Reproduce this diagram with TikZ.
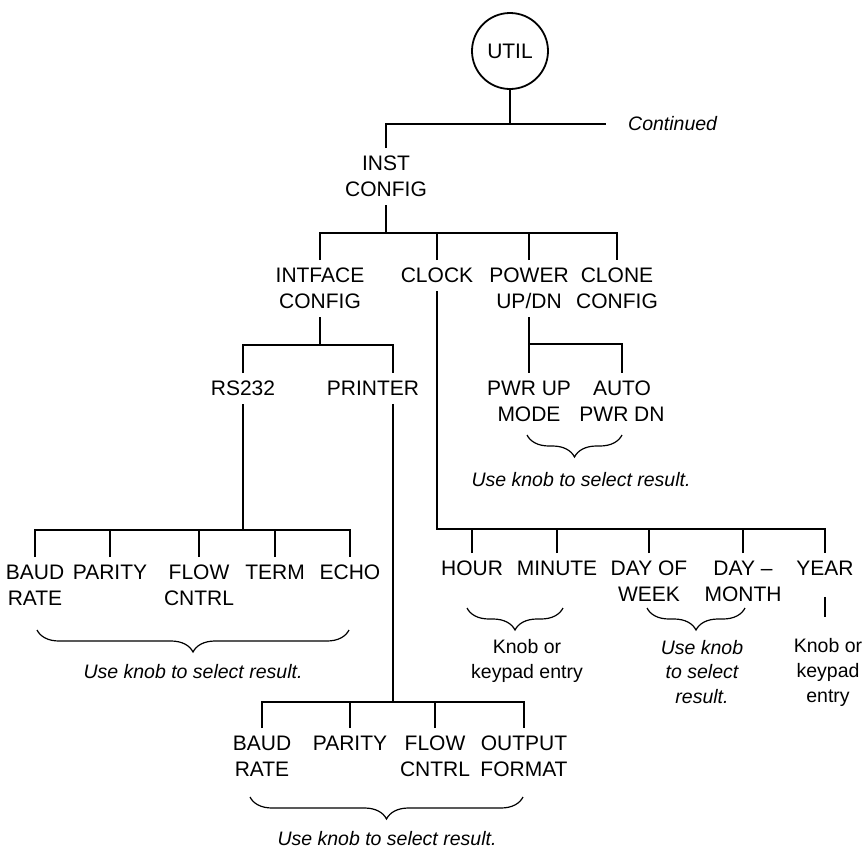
\documentclass[tikz,border=0pt]{standalone}
\usepackage{fontspec}
\setmainfont{Liberation Sans}
\usetikzlibrary{decorations.pathreplacing}

\begin{document}
\begin{tikzpicture}[
 x=1pt,y=-1pt,font=\fontsize{21}{26}\selectfont,
 item/.style={align=center,inner sep=8pt,anchor=north},
 note/.style={align=center,inner sep=2pt,font=\fontsize{19.5}{24.5}\selectfont\itshape},
 knob/.style={align=center,inner sep=2pt,font=\fontsize{19.5}{25}\selectfont},
 tree/.style={line width=2pt},
 brc/.style={decorate,decoration={brace,mirror,amplitude=22pt},line width=1.2pt}]
\useasboundingbox (0,0) rectangle (868,852);
\node[draw,circle,minimum size=76pt,inner sep=0pt,line width=1.8pt] (util) at (510,51) {UTIL};
\node[note,anchor=west,inner sep=0pt] (cont) at (628,124) {Continued};
\node[item] (inst) at (386,148) {INST\\CONFIG};
\node[item] (intf) at (320,260) {INTFACE\\CONFIG};
\node[item] (clock) at (437,260) {CLOCK};
\node[item] (power) at (529,260) {POWER\\UP/DN};
\node[item] (clone) at (617,260) {CLONE\\CONFIG};
\node[item] (rs) at (243,373) {RS232};
\node[item] (printer) at (373,373) {PRINTER};
\node[item] (pwrup) at (529,373) {PWR UP\\MODE};
\node[item] (auto) at (622,373) {AUTO\\PWR DN};
\node[item] (rbaud) at (35,557) {BAUD\\RATE};
\node[item] (rpar) at (110,557) {PARITY};
\node[item] (rflow) at (199,557) {FLOW\\CNTRL};
\node[item] (rterm) at (275,557) {TERM};
\node[item] (recho) at (350,557) {ECHO};
\node[item] (hour) at (472,553) {HOUR};
\node[item] (minute) at (557,553) {MINUTE};
\node[item] (dow) at (649,553) {DAY OF\\WEEK};
\node[item] (dm) at (743,553) {DAY \textendash\\MONTH};
\node[item] (year) at (825,553) {YEAR};
\node[item] (pbaud) at (262,728) {BAUD\\RATE};
\node[item] (ppar) at (350,728) {PARITY};
\node[item] (pflow) at (435,728) {FLOW\\CNTRL};
\node[item] (pout) at (524,728) {OUTPUT\\FORMAT};
\node[note] (pwnote) at (581,480) {Use knob to select result.};
\node[note] (rsnote) at (193,672) {Use knob to select result.};
\node[knob] (hnote) at (527,661) {Knob or\\keypad entry};
\node[note] (dnote) at (702,672) {Use knob\\to select\\result.};
\node[knob] (ynote) at (828,672) {Knob or\\keypad\\entry};
\node[note] (prnote) at (387,839) {Use knob to select result.};
\coordinate (j2) at (386,233);
\coordinate (j3) at (320,345);
\coordinate (prtop) at (393,345);
\coordinate (j4) at (243,530);
\coordinate (j5) at (437,529);
\coordinate (j6) at (529,344);
\coordinate (prbot) at (393,702);
\draw[tree] (util.south) -- (util.south |- cont.west);
\draw[tree] (inst.north) |- ([xshift=-22pt]cont.west);
\draw[tree] (inst.south) -- (j2);
\draw[tree] (intf.north) |- (clone.north |- j2) -- (clone.north);
\foreach \n in {clock,power}
 \draw[tree] (\n.north) -- (\n.north |- j2);
\draw[tree] (intf.south) -- (j3);
\draw[tree] (rs.north) |- (prtop) -- (prtop |- printer.north);
\draw[tree] (prtop |- printer.south) -- (prbot);
\draw[tree] (power.south) -- (pwrup.north);
\draw[tree] (j6) -| (auto.north);
\draw[tree] (rs.south) -- (j4);
\draw[tree] (rbaud.north) |- (j4) -| (recho.north);
\foreach \n in {rpar,rflow,rterm}
 \draw[tree] (\n.north) -- (\n.north |- j4);
\draw[tree] (clock.south) -- (j5) -| (year.north);
\foreach \n in {hour,minute,dow,dm}
 \draw[tree] (\n.north) -- (\n.north |- j5);
\draw[tree] ([yshift=-13pt]year.south) -- ([yshift=19pt]year.south |- ynote.north);
\draw[tree] (pbaud.north) |- (prbot) -| (pout.north);
\foreach \n in {ppar,pflow}
 \draw[tree] (\n.north) -- (\n.north |- prbot);
\draw[brc] (527,435) -- (622,435);
\draw[brc] (37,630) -- (349,630);
\draw[brc] (467,608) -- (563,608);
\draw[brc] (647,608) -- (745,608);
\draw[brc] (250,797) -- (523,797);
\end{tikzpicture}
\end{document}
